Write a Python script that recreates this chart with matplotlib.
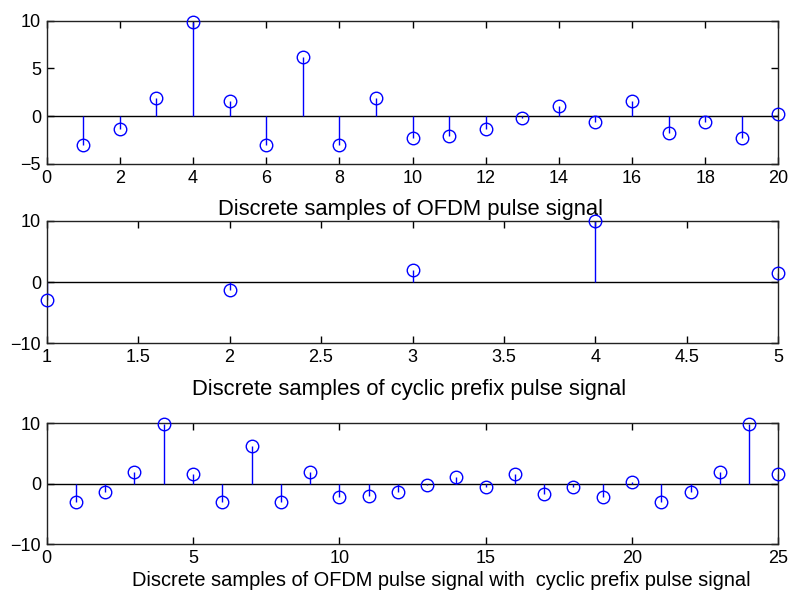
import numpy as np
import matplotlib
matplotlib.use("Agg")
import matplotlib.pyplot as plt

plt.rcParams["font.family"] = ["Liberation Sans", "DejaVu Sans"]
plt.rcParams["font.size"] = 13

# OFDM pulse samples (n = 1..20)
ofdm_n = np.arange(1, 21)
ofdm_vals = [-3.0, -1.3, 1.9, 9.9, 1.55, -3.0, 6.25, -3.0, 1.9, -2.25,
             -2.1, -1.3, -0.15, 1.1, -0.6, 1.55, -1.75, -0.6, -2.25, 0.25]

# cyclic prefix samples (n = 1..5)
cp_n = np.arange(1, 6)
cp_vals = [-3.0, -1.3, 1.9, 9.9, 1.55]

# OFDM signal with cyclic prefix (n = 1..25)
full_n = np.arange(1, 26)
full_vals = ofdm_vals + cp_vals

blue = "#0000ff"


def stem_plot(ax, n, vals):
    ax.axhline(0, color="black", lw=1.0, zorder=1)
    ml, sl, bl = ax.stem(n, vals, linefmt="-", markerfmt="o", basefmt=" ")
    plt.setp(sl, color=blue, lw=1.0)
    plt.setp(ml, markerfacecolor="none", markeredgecolor=blue,
             markersize=9, markeredgewidth=1.0, clip_on=False, zorder=3)
    bl.set_visible(False)
    ax.tick_params(direction="in", top=True, right=True, length=5,
                   width=1.0, pad=4, colors="black")
    for s in ax.spines.values():
        s.set_linewidth(1.0)
        s.set_color("#222222")


fig = plt.figure(figsize=(7.91, 6.04), dpi=100)

ax1 = fig.add_axes([0.059, 0.7285, 0.925, 0.2372])
stem_plot(ax1, ofdm_n, ofdm_vals)
ax1.set_xlim(0, 20)
ax1.set_ylim(-5, 10)
ax1.set_xticks(range(0, 21, 2))
ax1.set_yticks([-5, 0, 5, 10])
ax1.set_xlabel("Discrete samples of OFDM pulse signal", fontsize=15.8)
ax1.xaxis.set_label_coords(0.497, -0.245)

ax2 = fig.add_axes([0.059, 0.4316, 0.925, 0.203])
stem_plot(ax2, cp_n, cp_vals)
ax2.set_xlim(1, 5)
ax2.set_ylim(-10, 10)
ax2.set_xticks(np.arange(1, 5.01, 0.5))
ax2.set_xticklabels(["1", "1.5", "2", "2.5", "3", "3.5", "4", "4.5", "5"])
ax2.set_yticks([-10, 0, 10])
ax2.set_xlabel("Discrete samples of cyclic prefix pulse signal", fontsize=15.8)
ax2.xaxis.set_label_coords(0.495, -0.29)

ax3 = fig.add_axes([0.059, 0.0993, 0.925, 0.1999])
stem_plot(ax3, full_n, full_vals)
ax3.set_xlim(0, 25)
ax3.set_ylim(-10, 10)
ax3.set_xticks(range(0, 26, 5))
ax3.set_yticks([-10, 0, 10])
ax3.set_xlabel("Discrete samples of OFDM pulse signal with  cyclic prefix pulse signal",
               fontsize=14.4)
ax3.xaxis.set_label_coords(0.54, -0.225)

fig.savefig("out.png", dpi=100)
